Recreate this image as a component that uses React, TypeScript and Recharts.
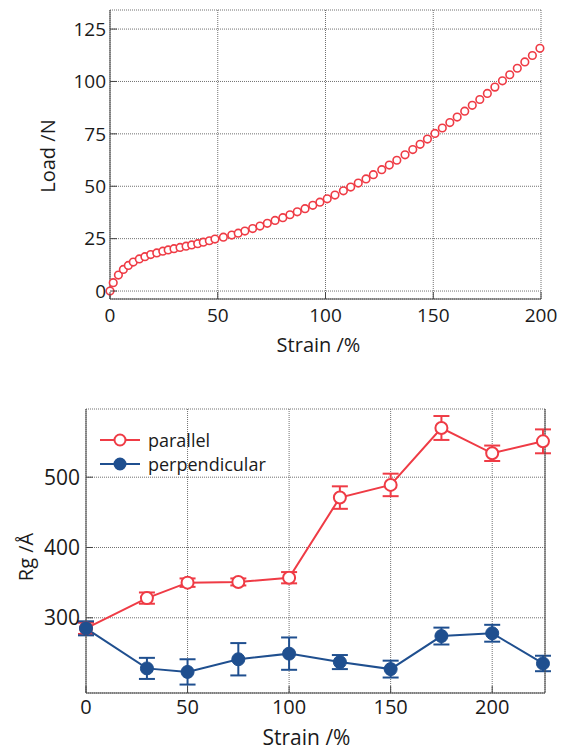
import React from "react";
import {
  ComposedChart,
  Line,
  XAxis,
  YAxis,
  CartesianGrid,
  ErrorBar,
  Label,
  Legend,
} from "recharts";

// top panel: load vs strain
const loadStrain = [
  0, 1.5, 3.9, 6.2, 8.5, 10.8, 13.6, 16.2, 18.9, 21.7, 24.5, 27, 29.7, 32.5, 35.3, 37.9, 40.7,
  43.3, 46.1, 48.7, 52.6, 56.5, 59.5, 62.6, 66.2, 69.6, 73, 76.6, 80.2, 83.5, 86.9, 90.5, 94.1,
  97.4, 100.8, 104.4, 108.3, 111.7, 115.2, 118.8, 122.2, 126.1, 129.6, 133.1, 136.9, 140.5,
  143.9, 147.3, 150.8, 154.2, 157.7, 161.1, 164.6, 168.1, 171.6, 175.1, 178.6, 182.1, 185.5,
  189, 192.5, 196, 199.5,
];
const loadValues = [
  0, 4, 7.6, 10.3, 12.2, 13.8, 15.3, 16.4, 17.4, 18.2, 19, 19.6, 20.2, 20.8, 21.4, 22, 22.6,
  23.3, 24, 24.8, 25.7, 26.7, 27.6, 28.6, 29.8, 31, 32.3, 33.7, 35, 36.4, 37.8, 39.3, 40.9,
  42.4, 44, 45.8, 47.8, 49.6, 51.5, 53.5, 55.5, 57.9, 60.1, 62.4, 65, 67.5,
  70, 72.5, 75.2, 77.8, 80.4, 83, 85.8, 88.6, 91.4, 94.3, 97.3, 100.3, 103.2,
  106.3, 109.3, 112.4, 115.8,
];
const loadTicksX = [0, 50, 100, 150, 200];
const loadMinorX = [
  0, 5, 10, 15, 20, 25, 30, 35, 40, 45, 50, 55, 60, 65, 70, 75, 80, 85, 90, 95, 100, 105, 110,
  115, 120, 125, 130, 135, 140, 145, 150, 155, 160, 165, 170, 175, 180, 185, 190, 195, 200,
];
const loadTicksY = [0, 25, 50, 75, 100, 125];
const loadMinorY = [
  0, 5, 10, 15, 20, 25, 30, 35, 40, 45, 50, 55, 60, 65, 70, 75, 80, 85, 90, 95, 100, 105, 110,
  115, 120, 125, 130,
];

// bottom panel: Rg vs strain
const rgStrain = [0, 30, 50, 75, 100, 125, 150, 175, 200, 225];
const parallel = [285, 328, 350, 351, 357, 471, 489, 570, 534, 551];
const parallelErr = [8, 8, 6, 5, 8, 16, 16, 17, 11, 17];
const perpendicular = [285, 228, 223, 241, 249, 237, 227, 274, 278, 235];
const perpendicularErr = [10, 15, 18, 23, 23, 10, 12, 12, 12, 11];
const rgTicksX = [0, 50, 100, 150, 200];
const rgMinorX = [0, 10, 20, 30, 40, 50, 60, 70, 80, 90, 100, 110, 120, 130, 140, 150, 160, 170, 180, 190, 200, 210, 220];
const rgTicksY = [300, 400, 500];
const rgMinorY = [200, 220, 240, 260, 280, 300, 320, 340, 360, 380, 400, 420, 440, 460, 480, 500, 520, 540, 560, 580];

const FONT = '"Open Sans", sans-serif';
const RED = "#ef3b45";
const BLUE = "#1f4f8f";
const INK = "#1a1a1a";
const FRAME = "#444";
const GRID = "#707070";

const loadData = loadStrain.map((s, i) => ({ strain: s, load: loadValues[i] }));
const rgData = rgStrain.map((s, i) => ({
  strain: s,
  par: parallel[i],
  parErr: parallelErr[i],
  perp: perpendicular[i],
  perpErr: perpendicularErr[i],
}));

// inward tick mark, optional label outside the frame
type Side = "bottom" | "top" | "left" | "right";
const makeTick = (side: Side, len: number, gap = 0, size = 0) => (props: any) => {
  const { x, y, payload } = props;
  let line;
  if (side === "bottom") line = { x1: x, x2: x, y1: y, y2: y - len };
  else if (side === "top") line = { x1: x, x2: x, y1: y, y2: y + len };
  else if (side === "left") line = { x1: x, x2: x + len, y1: y, y2: y };
  else line = { x1: x, x2: x - len, y1: y, y2: y };
  let label = null;
  if (size > 0) {
    if (side === "bottom")
      label = <text x={x} y={y + gap} dy="0.72em" textAnchor="middle" fontSize={size} fill={INK} fontFamily={FONT}>{payload.value}</text>;
    else if (side === "left")
      label = <text x={x - gap} y={y} dy="0.36em" textAnchor="end" fontSize={size} fill={INK} fontFamily={FONT}>{payload.value}</text>;
    else if (side === "right")
      label = <text x={x + gap} y={y} dy="0.36em" textAnchor="start" fontSize={size} fill={INK} fontFamily={FONT}>{payload.value}</text>;
  }
  return (
    <g>
      <line {...line} stroke={FRAME} strokeWidth={1} />
      {label}
    </g>
  );
};

const xTitle = (text: string, dx: number, dy: number, size: number) => (props: any) => {
  const vb = props.viewBox;
  return (
    <text x={vb.x + vb.width / 2 + dx} y={vb.y + dy} textAnchor="middle" fontSize={size} fill={INK} fontFamily={FONT}>
      {text}
    </text>
  );
};

const yTitle = (text: string, x: number, y: number, size: number) => () => (
  <text x={x} y={y} textAnchor="middle" fontSize={size} fill={INK} fontFamily={FONT} transform={`rotate(-90, ${x}, ${y})`}>
    {text}
  </text>
);

function LegendBox() {
  const rows = [
    { name: "parallel", color: RED, fill: "#fff" },
    { name: "perpendicular", color: BLUE, fill: BLUE },
  ];
  return (
    <div style={{ fontFamily: FONT, fontSize: 18, lineHeight: "24.5px", color: INK }}>
      {rows.map((r) => (
        <div key={r.name} style={{ display: "flex", alignItems: "center", height: 24.5 }}>
          <svg width={40} height={24} style={{ display: "block" }}>
            <line x1={0} x2={40} y1={12} y2={12} stroke={r.color} strokeWidth={2} />
            <circle cx={20} cy={12} r={5.5} fill={r.fill} stroke={r.color} strokeWidth={2} />
          </svg>
          <span style={{ marginLeft: 8 }}>{r.name}</span>
        </div>
      ))}
    </div>
  );
}

const common = { type: "number" as const, tickSize: 0, tickMargin: 0, tickLine: false, stroke: FRAME, interval: 0 as const };

function LoadChart() {
  const dx: [number, number] = [0, 200];
  const dy: [number, number] = [-3.8, 134.1];
  return (
    <ComposedChart width={588} height={360} data={loadData} margin={{ top: 10, right: 47, left: 0, bottom: 0 }} style={{ fontFamily: FONT }}>
      <CartesianGrid stroke={GRID} strokeDasharray="1 1" />
      <XAxis xAxisId="minB" {...common} domain={dx} ticks={loadMinorX} height={0} axisLine={false} tick={makeTick("bottom", 4)} />
      <XAxis {...common} dataKey="strain" domain={dx} ticks={loadTicksX} height={61} tick={makeTick("bottom", 7, 9, 19)}>
        <Label content={xTitle("Strain /%", -7, 53, 20)} />
      </XAxis>
      <XAxis xAxisId="minT" orientation="top" {...common} domain={dx} ticks={loadMinorX} height={0} axisLine={false} tick={makeTick("top", 4)} />
      <XAxis xAxisId="majT" orientation="top" {...common} domain={dx} ticks={loadTicksX} height={0} tick={makeTick("top", 7)} />
      <YAxis yAxisId="minL" {...common} domain={dy} ticks={loadMinorY} width={0} axisLine={false} tick={makeTick("left", 4)} />
      <YAxis {...common} domain={dy} ticks={loadTicksY} width={110} tick={makeTick("left", 7, 4, 19)}>
        <Label content={yTitle("Load /N", 55, 156, 20)} />
      </YAxis>
      <YAxis yAxisId="minR" orientation="right" {...common} domain={dy} ticks={loadMinorY} width={0} axisLine={false} tick={makeTick("right", 4)} />
      <YAxis yAxisId="majR" orientation="right" {...common} domain={dy} ticks={loadTicksY} width={0} tick={makeTick("right", 7)} />
      <Line dataKey="load" stroke="none" isAnimationActive={false} activeDot={false} dot={{ r: 3.8, fill: "#fff", stroke: RED, strokeWidth: 1.6 }} />
    </ComposedChart>
  );
}

function RgChart() {
  const dx: [number, number] = [0, 226];
  const dy: [number, number] = [193, 597];
  return (
    <ComposedChart width={588} height={371} data={rgData} margin={{ top: 29, right: 0, left: 0, bottom: 0 }} style={{ fontFamily: FONT }}>
      <CartesianGrid stroke={GRID} strokeDasharray="1 1" />
      <XAxis xAxisId="minB" {...common} domain={dx} ticks={rgMinorX} height={0} axisLine={false} tick={makeTick("bottom", 4)} />
      <XAxis {...common} dataKey="strain" domain={dx} ticks={rgTicksX} height={58} tick={makeTick("bottom", 7, 7, 20)}>
        <Label content={xTitle("Strain /%", -9, 52, 21)} />
      </XAxis>
      <XAxis xAxisId="minT" orientation="top" {...common} domain={dx} ticks={rgMinorX} height={0} axisLine={false} tick={makeTick("top", 4)} />
      <XAxis xAxisId="majT" orientation="top" {...common} domain={dx} ticks={rgTicksX} height={0} tick={makeTick("top", 7)} />
      <YAxis yAxisId="minL" {...common} domain={dy} ticks={rgMinorY} width={0} axisLine={false} tick={makeTick("left", 4)} />
      <YAxis {...common} domain={dy} ticks={rgTicksY} width={86} tick={makeTick("left", 7, 6, 21)}>
        <Label content={yTitle("Rg /Å", 33, 177, 20)} />
      </YAxis>
      <YAxis yAxisId="minR" orientation="right" {...common} domain={dy} ticks={rgMinorY} width={0} axisLine={false} tick={makeTick("right", 4)} />
      <YAxis yAxisId="majR" orientation="right" {...common} domain={dy} ticks={rgTicksY} width={43} tick={makeTick("right", 7, 5, 21)} />
      <Legend layout="vertical" align="center" verticalAlign="middle" wrapperStyle={{ left: 100, top: 47.5, width: "auto", height: "auto" }} content={LegendBox} />
      <Line dataKey="par" stroke={RED} strokeWidth={2} isAnimationActive={false} activeDot={false} dot={{ r: 6, fill: "#fff", stroke: RED, strokeWidth: 2 }}>
        <ErrorBar dataKey="parErr" direction="y" width={8} strokeWidth={2} stroke={RED} />
      </Line>
      <Line dataKey="perp" stroke={BLUE} strokeWidth={2} isAnimationActive={false} activeDot={false} dot={{ r: 6.5, fill: BLUE, stroke: BLUE, strokeWidth: 1 }}>
        <ErrorBar dataKey="perpErr" direction="y" width={8} strokeWidth={2} stroke={BLUE} />
      </Line>
    </ComposedChart>
  );
}

export default function App() {
  return (
    <div style={{ position: "absolute", left: 0, top: 0, width: 588, height: 751, background: "#fff" }}>
      <div style={{ position: "absolute", left: 0, top: 0 }}>
        <LoadChart />
      </div>
      <div style={{ position: "absolute", left: 0, top: 380 }}>
        <RgChart />
      </div>
    </div>
  );
}
